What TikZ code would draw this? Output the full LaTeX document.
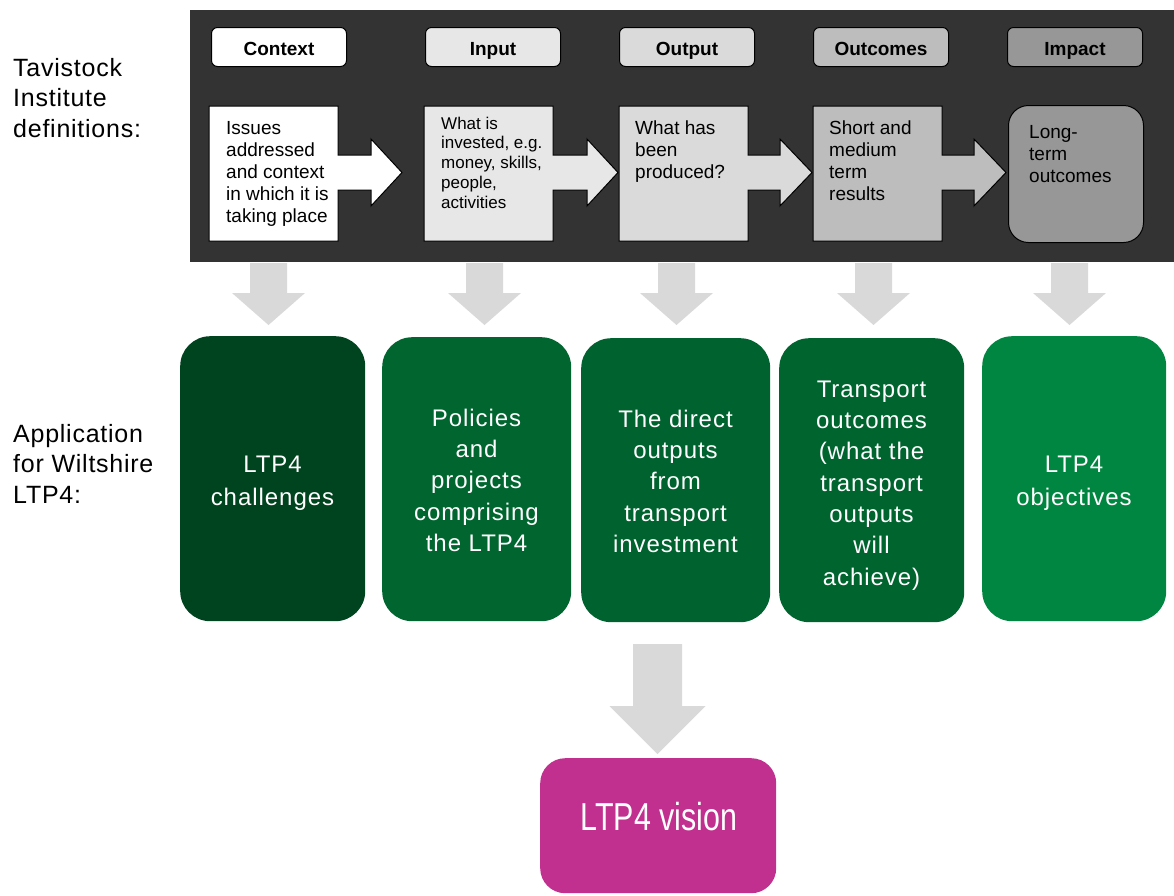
\documentclass[tikz,border=0pt]{standalone}
\usepackage{fontspec}
\usepackage{graphicx}
\setmainfont{Liberation Sans}
\newfontfamily\gfont[LetterSpace=4]{Liberation Sans}
\newfontfamily\lfont[LetterSpace=3]{Liberation Sans}
\definecolor{panelc}{HTML}{333333}
\definecolor{c1}{HTML}{FFFFFF}
\definecolor{c2}{HTML}{E7E7E7}
\definecolor{c3}{HTML}{DADADA}
\definecolor{c4}{HTML}{BDBDBD}
\definecolor{c5}{HTML}{979797}
\definecolor{arrgray}{HTML}{D9D9D9}
\definecolor{g1}{HTML}{00431F}
\definecolor{g2}{HTML}{00652F}
\definecolor{g3}{HTML}{00622E}
\definecolor{g4}{HTML}{00642F}
\definecolor{g5}{HTML}{008640}
\definecolor{mag}{HTML}{C1308F}
\newcommand{\fst}{\rule{0pt}{0.8em}}
\begin{document}
\begin{tikzpicture}[x=1pt,y=-1pt,
  hdr/.style={draw=black, line width=1pt, rounded corners=6pt, anchor=north west,
    minimum width=135pt, minimum height=39pt, inner sep=0pt, text height=16.6pt, text depth=0pt,
    font=\fontsize{19}{22}\selectfont\bfseries},
  bodyline/.style={draw=black, line width=1pt},
  btext/.style={anchor=north west, inner sep=0pt, align=left, font=\fontsize{19}{22}\selectfont},
  stext/.style={anchor=north west, inner sep=0pt, align=left, font=\fontsize{17}{19.75}\selectfont},
  ltext/.style={anchor=north west, inner sep=0pt, align=left, font=\fontsize{25}{30.5}\lfont},
  gbox/.style={draw=none, rounded corners=30pt, anchor=north west, inner sep=0pt},
  gtext/.style={anchor=north, inner sep=0pt, align=center, text=white, font=\fontsize{24}{31.3}\gfont},
  gtextw/.style={gtext, font=\fontsize{24}{33.5}\gfont},
  darr/.pic={\fill[arrgray] (-18.5,0) -- (18.5,0) -- (18.5,30) -- (36.5,30) -- (0,62) -- (-36.5,30) -- (-18.5,30) -- cycle;},
  bigdarr/.pic={\fill[arrgray] (-24.5,0) -- (24.5,0) -- (24.5,62) -- (48,62) -- (0,110) -- (-48,62) -- (-24.5,62) -- cycle;}
]
\useasboundingbox (0,0) rectangle (1174,895);

% dark panel
\node[fill=panelc, draw=none, inner sep=0pt, minimum width=984pt, minimum height=252pt, anchor=north west] (panel) at (190,10) {};

% header boxes
\node[hdr, fill=c1] (hctx) at (211,27) {Context};
\node[hdr, fill=c2] (hin) at (425,27) {Input};
\node[hdr, fill=c3] (hout) at (619,27) {Output};
\node[hdr, fill=c4] (hoc) at (813,27) {Outcomes};
\node[hdr, fill=c5] (himp) at (1007,27) {Impact};

% body boxes with arrows
\filldraw[bodyline, fill=c1] (209,106) -- (338,106) -- (338,155) -- (371,155) -- (371,139) -- (402,172.5) -- (371,206) -- (371,190) -- (338,190) -- (338,241) -- (209,241) -- cycle;
\filldraw[bodyline, fill=c2] (424,106) -- (553,106) -- (553,155) -- (587,155) -- (587,139) -- (618,172.5) -- (587,206) -- (587,190) -- (553,190) -- (553,241) -- (424,241) -- cycle;
\filldraw[bodyline, fill=c3] (619,106) -- (748,106) -- (748,155) -- (780,155) -- (780,139) -- (812,172.5) -- (780,206) -- (780,190) -- (748,190) -- (748,241) -- (619,241) -- cycle;
\filldraw[bodyline, fill=c4] (813,106) -- (942,106) -- (942,155) -- (974,155) -- (974,139) -- (1006,172.5) -- (974,206) -- (974,190) -- (942,190) -- (942,241) -- (813,241) -- cycle;
\node[bodyline, fill=c5, rounded corners=20pt, minimum width=135pt, minimum height=137pt, inner sep=0pt, anchor=north west] (bimp) at (1008,105) {};

% body texts
\node[btext] (tctx) at (226,118.8) {\fst Issues\\addressed\\and context\\in which it is\\taking place};
\node[stext] (tin) at (441,115.4) {\fst What is\\invested, e.g.\\money, skills,\\people,\\activities};
\node[btext] (tout) at (635,118.8) {\fst What has\\been\\produced?};
\node[btext] (toc) at (829,118.8) {\fst Short and\\medium\\term\\results};
\node[btext] (timp) at (1029,122.8) {\fst Long-\\term\\outcomes};

% left labels
\node[ltext] (ltav) at (13,56) {\fst Tavistock\\Institute\\definitions:};
\node[ltext] (lapp) at (13,422) {\fst Application\\for Wiltshire\\LTP4:};

% grey down arrows
\pic at (268.5,263) {darr};
\pic at (484.5,263) {darr};
\pic at (676.5,263) {darr};
\pic at (873.5,263) {darr};
\pic at (1069.5,263) {darr};

% green boxes
\node[gbox, fill=g1, minimum width=185pt, minimum height=285pt] (b1) at (180,336) {};
\node[gbox, fill=g2, minimum width=189pt, minimum height=284pt] (b2) at (382,337) {};
\node[gbox, fill=g3, minimum width=189pt, minimum height=284pt] (b3) at (581,338) {};
\node[gbox, fill=g4, minimum width=185pt, minimum height=284pt] (b4) at (779,338) {};
\node[gbox, fill=g5, minimum width=184pt, minimum height=285pt] (b5) at (982,336) {};

\node[gtextw] (t1) at (272.5,452.8) {\fst LTP4\\challenges};
\node[gtext] (t2) at (476.5,406.8) {\fst Policies\\and\\projects\\comprising\\the LTP4};
\node[gtext] (t3) at (675.5,407.8) {\fst The direct\\outputs\\from\\transport\\investment};
\node[gtext] (t4) at (871.5,377.8) {\fst Transport\\outcomes\\(what the\\transport\\outputs\\will\\achieve)};
\node[gtextw] (t5) at (1074,452.8) {\fst LTP4\\objectives};

% bottom arrow and vision
\pic at (657.5,644) {bigdarr};
\node[gbox, fill=mag, rounded corners=25pt, minimum width=236pt, minimum height=135pt] (vis) at (540,758) {};
\node[anchor=base, inner sep=0pt, text=white, font=\fontsize{39}{44}\selectfont] (tvis) at (659,830) {\scalebox{0.78}[1]{LTP4 vision}};
\end{tikzpicture}
\end{document}
